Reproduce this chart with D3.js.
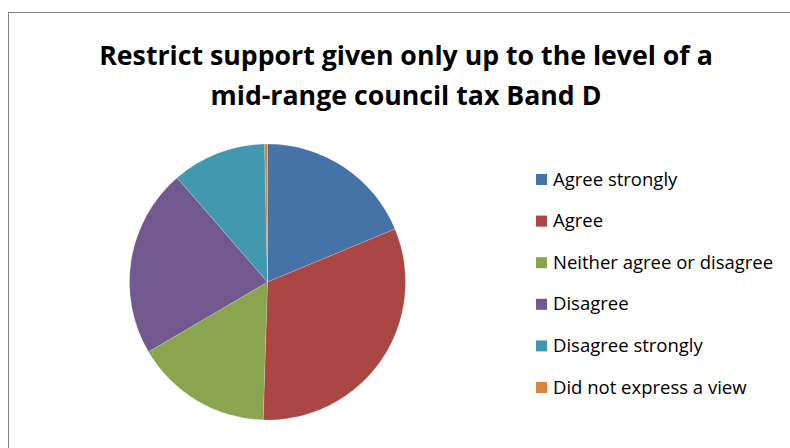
<!DOCTYPE html>
<html>
<head>
<meta charset="utf-8">
<script src="https://cdn.jsdelivr.net/npm/d3@7"></script>
<style>
  body { margin: 0; background: #fff; }
  svg { display: block; }
  text { font-family: "Open Sans", "Noto Sans", sans-serif; }
</style>
</head>
<body>
<svg width="790" height="448"></svg>
<script>
var categories = ['Agree strongly', 'Agree', 'Neither agree or disagree', 'Disagree', 'Disagree strongly', 'Did not express a view'];
var values = [56, 95, 48, 66, 33, 1];
var colors = ['#4572A7', '#AA4643', '#89A54E', '#71588F', '#4198AF', '#DB843D'];
var titleLines = ['Restrict support given only up to the level of a', 'mid-range council tax Band D'];

var svg = d3.select('svg');

// chart frame
svg.append('rect')
  .attr('x', 8.5)
  .attr('y', 12.5)
  .attr('width', 800)
  .attr('height', 500)
  .attr('fill', '#fff')
  .attr('stroke', '#878787')
  .attr('stroke-width', 1);

// title
svg.selectAll('.title')
  .data(titleLines)
  .enter()
  .append('text')
  .attr('class', 'title')
  .attr('x', 406)
  .attr('y', function(d, i){ return 65 + i * 40; })
  .attr('text-anchor', 'middle')
  .attr('font-size', 26.7)
  .attr('font-weight', 'bold')
  .attr('fill', '#000')
  .text(function(d){ return d; });

var data = categories.map(function(c, i){
  return {name: c, value: values[i], color: colors[i]};
});

var pie = d3.pie().sort(null).value(function(d){ return d.value; });
var arc = d3.arc().innerRadius(0).outerRadius(138);

var g = svg.append('g')
  .attr('transform', 'translate(267.5,282)');

g.selectAll('path')
  .data(pie(data))
  .enter()
  .append('path')
  .attr('d', arc)
  .attr('fill', function(d){ return d.data.color; })
  .attr('stroke', 'rgba(255,255,255,0.35)')
  .attr('stroke-width', 0.5);

// legend
var legend = svg.append('g')
  .attr('transform', 'translate(536,179)');

var rows = legend.selectAll('.row')
  .data(data)
  .enter()
  .append('g')
  .attr('class', 'row')
  .attr('transform', function(d, i){ return 'translate(0,' + (i * 41.6) + ')'; });

rows.append('rect')
  .attr('x', 0)
  .attr('y', -5)
  .attr('width', 11)
  .attr('height', 11)
  .attr('fill', function(d){ return d.color; });

rows.append('text')
  .attr('x', 17)
  .attr('y', 6.5)
  .attr('font-size', 18.5)
  .attr('fill', '#000')
  .text(function(d){ return d.name; });
</script>
</body>
</html>
